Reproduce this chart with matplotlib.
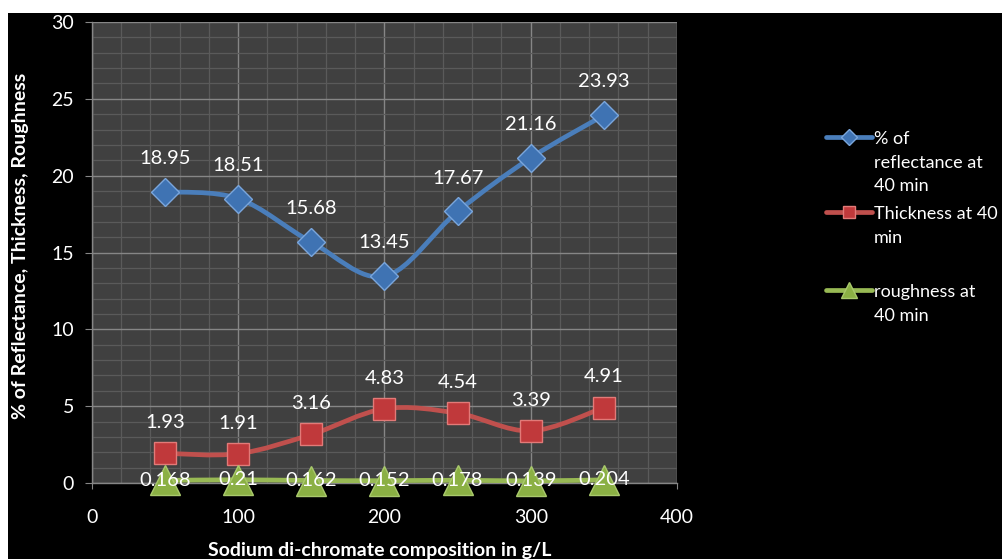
import matplotlib

matplotlib.use("Agg")
import matplotlib.pyplot as plt
from matplotlib.path import Path
from matplotlib.patches import PathPatch, Rectangle
from matplotlib.lines import Line2D
from matplotlib.ticker import MultipleLocator
import numpy as np

plt.rcParams["font.family"] = ["Lato", "DejaVu Sans"]

composition = [50, 100, 150, 200, 250, 300, 350]
reflectance = [18.95, 18.51, 15.68, 13.45, 17.67, 21.16, 23.93]
thickness = [1.93, 1.91, 3.16, 4.83, 4.54, 3.39, 4.91]
roughness = [0.168, 0.21, 0.162, 0.152, 0.178, 0.139, 0.204]
reflectance_labels = ["18.95", "18.51", "15.68", "13.45", "17.67", "21.16", "23.93"]
thickness_labels = ["1.93", "1.91", "3.16", "4.83", "4.54", "3.39", "4.91"]
roughness_labels = ["0.168", "0.21", "0.162", "0.152", "0.178", "0.139", "0.204"]
legend_labels = ["% of\nreflectance at\n40 min", "Thickness at 40\nmin", "roughness at\n40 min"]

W, H = 1003, 559


def smooth_path(xs, ys):
    # Excel-style smoothed line: Catmull-Rom segments as cubic Beziers
    p = np.column_stack([xs, ys]).astype(float)
    p = np.vstack([p[0], p, p[-1]])
    verts = [p[1]]
    codes = [Path.MOVETO]
    for i in range(1, len(p) - 2):
        c1 = p[i] + (p[i + 1] - p[i - 1]) / 6
        c2 = p[i + 1] - (p[i + 2] - p[i]) / 6
        verts += [c1, c2, p[i + 1]]
        codes += [Path.CURVE4] * 3
    return Path(verts, codes)


fig = plt.figure(figsize=(W / 100, H / 100), dpi=100, facecolor="white")
fig.patches.append(Rectangle((8 / W, 0), 1, (H - 13) / H, transform=fig.transFigure,
                             facecolor="black", edgecolor="none", zorder=-10))

ax = fig.add_axes([92 / W, (H - 483) / H, (677 - 92) / W, (483 - 22) / H])
ax.set_facecolor("#404040")
ax.set_xlim(0, 400)
ax.set_ylim(0, 30)
ax.xaxis.set_major_locator(MultipleLocator(100))
ax.xaxis.set_minor_locator(MultipleLocator(20))
ax.yaxis.set_major_locator(MultipleLocator(5))
ax.yaxis.set_minor_locator(MultipleLocator(1))
ax.grid(which="minor", color="#5a5a5a", linewidth=0.9)
ax.grid(which="major", color="#868686", linewidth=1.0)
ax.set_axisbelow(True)
for s in ["top", "right"]:
    ax.spines[s].set_visible(False)
for s in ["left", "bottom"]:
    ax.spines[s].set_color("#868686")
    ax.spines[s].set_linewidth(1.0)
ax.tick_params(axis="y", which="major", length=5, color="#868686", labelcolor="white",
               labelsize=14, pad=8)
ax.tick_params(axis="x", which="major", length=4, color="#868686", labelcolor="white",
               labelsize=14, pad=15)
ax.tick_params(which="minor", length=0)

series = [
    (reflectance, reflectance_labels, "#4a7ebb", "D", 14, "#3f73b3", "#7aa6dc", 24),
    (thickness, thickness_labels, "#c0504d", "s", 16, "#c0393b", "#e27a78", 22),
    (roughness, roughness_labels, "#98b954", "^", 22, "#8bb044", "#a9c96c", 0),
]

for ys, labels, lc, mk, ms, mfc, mec, off in series:
    ax.add_patch(PathPatch(smooth_path(composition, ys), facecolor="none", edgecolor=lc,
                           linewidth=3.4, capstyle="round", zorder=3, clip_on=False))
    ax.plot(composition, ys, linestyle="none", marker=mk, markersize=ms,
            markerfacecolor=mfc, markeredgecolor=mec, markeredgewidth=1.0,
            zorder=4, clip_on=False)
    for x, y, t in zip(composition, ys, labels):
        ax.annotate(t, (x, y), xytext=(0, off), textcoords="offset points",
                    ha="center", va="center", color="white", fontsize=14.5, zorder=5,
                    annotation_clip=False)

ax.set_ylabel("% of Reflectance, Thickness, Roughness", color="white", fontsize=14,
              fontweight="bold")
ax.yaxis.set_label_coords((29 - 92) / (677 - 92), (483 - 246) / (483 - 22))
ax.set_xlabel("Sodium di-chromate composition in g/L", color="white", fontsize=14,
              fontweight="bold")
ax.xaxis.set_label_coords((380 - 92) / (677 - 92), -(542 - 483) / (483 - 22))

# legend drawn by hand so the key sits beside the first line of each wrapped label
legend_y = [137, 212, 290]
for (ys, labels, lc, mk, ms, mfc, mec, off), lab, ly in zip(series, legend_labels, legend_y):
    yf = (H - ly) / H
    fig.lines.append(Line2D([826 / W, 872 / W], [yf, yf], transform=fig.transFigure,
                            color=lc, linewidth=3.4, solid_capstyle="round"))
    fig.lines.append(Line2D([849 / W], [yf], transform=fig.transFigure, marker=mk,
                            markersize=ms * 0.55, markerfacecolor=mfc, markeredgecolor=mec,
                            linestyle="none"))
    fig.text(874 / W, yf + 6 / H, lab, color="white", fontsize=13, ha="left", va="top",
             linespacing=1.58)

fig.savefig("out.png", dpi=100, facecolor=fig.get_facecolor())
